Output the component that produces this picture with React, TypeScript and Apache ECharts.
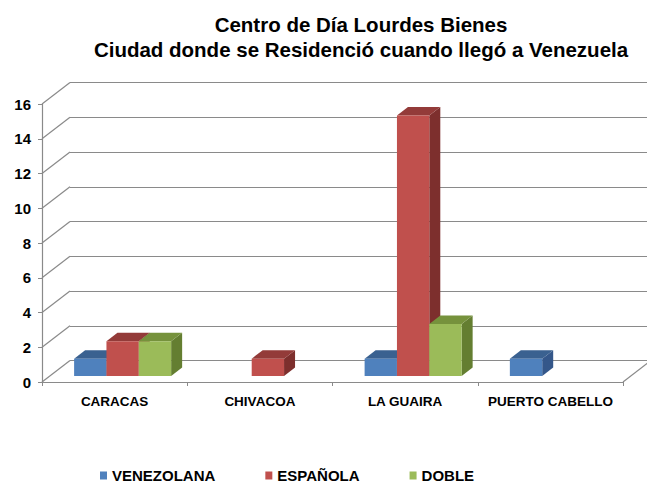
import React, { useEffect, useRef } from "react";
import * as echarts from "echarts";

const categories = ["CARACAS", "CHIVACOA", "LA GUAIRA", "PUERTO CABELLO"];
const seriesNames = ["VENEZOLANA", "ESPAÑOLA", "DOBLE"];
const venezolana = [1, 0, 1, 1];
const espanola = [2, 1, 15, 0];
const doble = [2, 0, 3, 0];
const yTicks = [0, 2, 4, 6, 8, 10, 12, 14, 16];
const titleLines = [
  "Centro de Día Lourdes Bienes",
  "Ciudad donde se Residenció cuando llegó a Venezuela",
];

const palette = [
  { front: "#4F81BD", top: "#3A6190", side: "#34578A" },
  { front: "#C0504D", top: "#933B39", side: "#7D2F2D" },
  { front: "#9BBB59", top: "#76923C", side: "#647E31" },
];

const FONT = "'Liberation Sans', Arial, sans-serif";
const GRID_COLOR = "#8A8A8A";
const WALL_DX = 28;
const WALL_DY = -21.5;
const BAR_OFF_X = 8;
const BAR_OFF_Y = -6;
const BAR_DX = 11;
const BAR_DY = -8.5;

const makeBarRender = (sIdx: number) => (params: any, api: any) => {
  const cat = api.value(0);
  const val = api.value(1);
  if (!val) return null;
  const band = api.size([1, 0])[0];
  const base = api.coord([cat, 0]);
  const topP = api.coord([cat, val]);
  const groupW = band * 0.668;
  const bw = groupW / 3;
  const x0 = base[0] - groupW / 2 + sIdx * bw + BAR_OFF_X;
  const yb = base[1] + BAR_OFF_Y;
  const yt = topP[1] + BAR_OFF_Y;
  const c = palette[sIdx];
  return {
    type: "group",
    children: [
      {
        type: "polygon",
        shape: {
          points: [
            [x0 + bw, yt],
            [x0 + bw + BAR_DX, yt + BAR_DY],
            [x0 + bw + BAR_DX, yb + BAR_DY],
            [x0 + bw, yb],
          ],
        },
        style: { fill: c.side },
      },
      {
        type: "polygon",
        shape: {
          points: [
            [x0, yt],
            [x0 + bw, yt],
            [x0 + bw + BAR_DX, yt + BAR_DY],
            [x0 + BAR_DX, yt + BAR_DY],
          ],
        },
        style: { fill: c.top },
      },
      {
        type: "rect",
        shape: { x: x0, y: yt, width: bw, height: yb - yt },
        style: { fill: c.front },
      },
    ],
  };
};

const wallRender = (params: any, api: any) => {
  const cs = params.coordSys;
  const v = api.value(1);
  const y = api.coord([0, v])[1];
  const style = { stroke: GRID_COLOR, lineWidth: 1.2 };
  const children: any[] = [
    { type: "line", shape: { x1: cs.x, y1: y, x2: cs.x + WALL_DX, y2: y + WALL_DY }, style },
  ];
  if (v === 0) {
    children.push({
      type: "line",
      shape: {
        x1: cs.x + cs.width,
        y1: y,
        x2: cs.x + cs.width + WALL_DX,
        y2: y + WALL_DY,
      },
      style,
    });
  }
  return { type: "group", children };
};

export default function App() {
  const ref = useRef<HTMLDivElement>(null);
  useEffect(() => {
    if (!ref.current) return;
    const chart = echarts.init(ref.current, null, { renderer: "svg" });
    const values = [venezolana, espanola, doble];
    const option: any = {
      animation: false,
      backgroundColor: "#ffffff",
      graphic: titleLines.map((t, i) => ({
        type: "text",
        x: 361,
        y: 24 + i * 25,
        style: {
          text: t,
          font: `bold 20.5px ${FONT}`,
          fill: "#000000",
          align: "center",
          verticalAlign: "middle",
        },
      })),
      legend: {
        data: seriesNames.map((n, i) => ({
          name: n,
          icon: "rect",
          itemStyle: { color: palette[i].front },
        })),
        left: 95,
        top: 463,
        itemWidth: 7,
        itemHeight: 8,
        itemGap: 50,
        textStyle: { fontFamily: FONT, fontWeight: "bold", fontSize: 15, color: "#000" },
      },
      grid: [
        { left: 42, top: 104, width: 581, height: 278 },
        { left: 42 + WALL_DX, top: 104 + WALL_DY, width: 581, height: 278 },
      ],
      xAxis: [
        {
          type: "category",
          gridIndex: 0,
          data: categories,
          axisLine: { show: true, lineStyle: { color: GRID_COLOR, width: 1.2 } },
          axisTick: { show: true, length: 4, lineStyle: { color: GRID_COLOR } },
          axisLabel: {
            interval: 0,
            fontFamily: FONT,
            fontWeight: "bold",
            fontSize: 13.5,
            color: "#000",
            margin: 12,
          },
          splitLine: { show: false },
        },
        {
          type: "category",
          gridIndex: 1,
          data: categories,
          show: false,
        },
      ],
      yAxis: [
        {
          type: "value",
          gridIndex: 0,
          min: 0,
          max: 16,
          interval: 2,
          axisLine: { show: true, lineStyle: { color: GRID_COLOR, width: 1.2 } },
          axisTick: { show: true, length: 4, lineStyle: { color: GRID_COLOR } },
          axisLabel: {
            fontFamily: FONT,
            fontWeight: "bold",
            fontSize: 15,
            color: "#000",
            margin: 11,
          },
          splitLine: { show: false },
        },
        {
          type: "value",
          gridIndex: 1,
          min: 0,
          max: 16,
          interval: 2,
          axisLine: { show: false },
          axisTick: { show: false },
          axisLabel: { show: false },
          splitLine: { show: true, lineStyle: { color: GRID_COLOR, width: 1.2 } },
        },
      ],
      series: [
        {
          type: "custom",
          name: "walls",
          xAxisIndex: 0,
          yAxisIndex: 0,
          silent: true,
          z: 1,
          renderItem: wallRender,
          encode: { x: 0, y: 1 },
          data: yTicks.map((v) => [0, v]),
        },
        ...seriesNames.map((n, sIdx) => ({
          type: "custom",
          name: n,
          xAxisIndex: 0,
          yAxisIndex: 0,
          z: 3 + sIdx,
          itemStyle: { color: palette[sIdx].front },
          renderItem: makeBarRender(sIdx),
          encode: { x: 0, y: 1 },
          data: categories.map((_, i) => [i, values[sIdx][i]]),
        })),
      ],
    };
    chart.setOption(option);
    return () => chart.dispose();
  }, []);
  return (
    <div
      ref={ref}
      style={{ position: "fixed", left: 0, top: 0, width: 647, height: 484 }}
    />
  );
}
